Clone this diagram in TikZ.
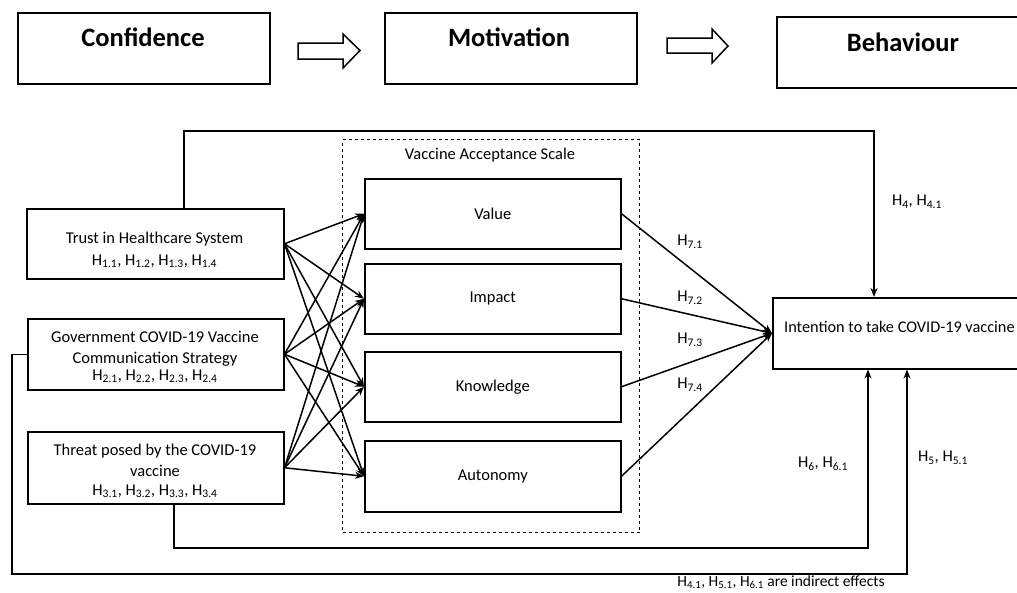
\documentclass[tikz,border=0pt]{standalone}
\usepackage{fontspec}
\setmainfont{Carlito}
\usetikzlibrary{arrows.meta}
\newcommand{\Hs}[1]{H\textsubscript{#1}}
\begin{document}
\begin{tikzpicture}[x=1pt,y=-1pt,
  topbox/.style={draw,line width=1.6pt,anchor=north west,inner sep=0pt},
  toptext/.style={font=\fontsize{26.5}{30}\selectfont\bfseries,inner sep=0pt},
  box/.style={draw,line width=1.5pt,anchor=north west,inner sep=0pt},
  txt/.style={font=\fontsize{16.5}{21}\selectfont,inner sep=0pt,align=center},
  lbl/.style={font=\fontsize{16.5}{19}\selectfont,inner sep=0pt},
  arr/.style={line width=1.5pt,-{Stealth[length=9pt,width=7pt]}},
  hollow/.style={draw,line width=1.5pt,line join=miter,fill=white}]
\useasboundingbox (0,0) rectangle (1017,592);
% top row
\node[topbox,minimum width=252pt,minimum height=71pt] (conf) at (17,12) {};
\node[toptext] (conft) at (143,37) {Confidence};
\node[topbox,minimum width=252pt,minimum height=71pt] (moti) at (384,12) {};
\node[toptext] (motit) at (509,37) {Motivation};
\node[topbox,minimum width=260pt,minimum height=71pt] (beha) at (776,16) {};
\node[toptext] (behat) at (903,42) {Behaviour};
\path[hollow] (298,43) -- (343,43) -- (343,34) -- (360,50.5) -- (343,68) -- (343,59) -- (298,59) -- cycle;
\path[hollow] (667,38) -- (712,38) -- (712,29) -- (728,46) -- (712,63) -- (712,53) -- (667,53) -- cycle;
% left boxes
\node[box,minimum width=257pt,minimum height=70pt] (trust) at (26,208) {};
\node[txt] (trustt) at (154.5,250)
  {Trust in Healthcare System\\[1pt]\Hs{1.1}, \Hs{1.2}, \Hs{1.3}, \Hs{1.4}};
\node[box,minimum width=256pt,minimum height=71pt] (gov) at (27,318) {};
\node[txt] (govt) at (155,357)
  {Government COVID-19 Vaccine\\Communication Strategy\\[-4pt]\Hs{2.1}, \Hs{2.2}, \Hs{2.3}, \Hs{2.4}};
\node[box,minimum width=256pt,minimum height=72pt] (threat) at (27,431) {};
\node[txt] (threatt) at (155,471)
  {Threat posed by the COVID-19\\vaccine\\[-2pt]\Hs{3.1}, \Hs{3.2}, \Hs{3.3}, \Hs{3.4}};
% scale
\node[draw,dashed,line width=1.2pt,anchor=north west,inner sep=0pt,minimum width=297pt,minimum height=393pt] (vas) at (342,139) {};
\node[lbl] (vast) at (490,155) {Vaccine Acceptance Scale};
\node[box,minimum width=256pt,minimum height=70pt,font=\fontsize{16.5}{19}\selectfont] (value) at (364,178) {Value};
\node[box,minimum width=256pt,minimum height=70pt,font=\fontsize{16.5}{19}\selectfont] (impact) at (364,263) {Impact};
\node[box,minimum width=256pt,minimum height=70pt,font=\fontsize{16.5}{19}\selectfont] (know) at (364,351) {Knowledge};
\node[box,minimum width=256pt,minimum height=71pt,font=\fontsize{16.5}{19}\selectfont] (auto) at (364,440) {Autonomy};
% outcome
\node[box,minimum width=270pt,minimum height=71pt] (int) at (772,297) {};
\node[lbl,anchor=west,font=\fontsize{16.3}{19}\selectfont] (intt) at (784,327) {Intention to take COVID-19 vaccine};
% cross arrows
\foreach \s in {trust,gov,threat}{
  \foreach \t in {value,impact,know,auto}{
    \draw[arr] (\s.east) -- (\t.west);
  }
}
\foreach \t in {value,impact,know,auto}{
  \draw[arr] (\t.east) -- (int.west);
}
% long connectors
\coordinate (ta) at (184,131);
\coordinate (tb) at (874,131);
\draw[arr] (trust.north -| ta) -- (ta) -- (tb) -- (int.north -| tb);
\coordinate (ga) at (12,574);
\coordinate (gb) at (907,574);
\draw[arr] (gov.west) -| (ga) -- (gb) -- (int.south -| gb);
\coordinate (ha) at (174,548);
\coordinate (hb) at (868,548);
\draw[arr] (threat.south -| ha) -- (ha) -- (hb) -- (int.south -| hb);
% labels
\node[lbl] (l71) at (690,242) {\Hs{7.1}};
\node[lbl] (l72) at (690,298) {\Hs{7.2}};
\node[lbl] (l73) at (690,340) {\Hs{7.3}};
\node[lbl] (l74) at (690,385) {\Hs{7.4}};
\node[lbl] (l4) at (917,202) {\Hs{4}, \Hs{4.1}};
\node[lbl] (l6) at (823,464) {\Hs{6}, \Hs{6.1}};
\node[lbl] (l5) at (943,458) {\Hs{5}, \Hs{5.1}};
\node[lbl,font=\fontsize{15.5}{18}\selectfont] (lind) at (781,582) {\Hs{4.1}, \Hs{5.1}, \Hs{6.1} are indirect effects};
\end{tikzpicture}
\end{document}
